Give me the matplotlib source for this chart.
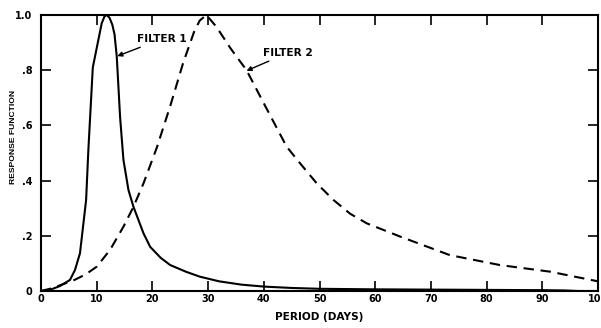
import matplotlib
matplotlib.use("Agg")
import matplotlib.pyplot as plt

# Filter 1 response (solid)
period_f1 = [0, 1.6, 3.4, 5.2, 6.1, 7.0, 8.1, 8.5, 9.3, 10.3, 10.9, 11.4, 11.8, 12.3, 12.8,
             13.2, 13.6, 14.2, 14.8, 15.7, 16.6, 18.4, 19.6, 21.5, 23.2, 26.0, 28.5,
             32.0, 36.0, 40.0, 45.0, 50.0, 60.0, 70.0, 80.0, 90.0, 94.0, 96.5, 100.0]
resp_f1 = [0.0, 0.004, 0.018, 0.04, 0.076, 0.137, 0.33, 0.51, 0.81, 0.91, 0.97, 0.995, 1.0, 0.99, 0.965,
           0.93, 0.85, 0.63, 0.475, 0.366, 0.305, 0.209, 0.16, 0.12, 0.094, 0.07, 0.052,
           0.035, 0.023, 0.016, 0.011, 0.008, 0.006, 0.005, 0.004, 0.003, 0.002, 0.0, 0.0]

# Filter 2 response (dashed)
period_f2 = [0, 2.0, 4.0, 6.0, 8.0, 10.0, 12.4, 14.8, 16.6, 18.4, 20.8, 23.2, 25.5,
             27.5, 28.5, 29.7, 31.5, 34.0, 36.9, 40.0, 44.1, 46.5, 49.5, 52.5, 55.5,
             58.5, 64.5, 73.4, 82.4, 91.4, 100.0]
resp_f2 = [0.0, 0.01, 0.025, 0.04, 0.06, 0.088, 0.149, 0.233, 0.305, 0.39, 0.52, 0.67, 0.825,
           0.94, 0.98, 1.0, 0.957, 0.88, 0.80, 0.68, 0.523, 0.463, 0.39, 0.33, 0.28,
           0.245, 0.197, 0.13, 0.094, 0.07, 0.035]

x_ticks = [0, 10, 20, 30, 40, 50, 60, 70, 80, 90, 100]
y_ticks = [0, 0.2, 0.4, 0.6, 0.8, 1.0]
y_tick_labels = ["0", ".2", ".4", ".6", ".8", "1.0"]

bold = dict(family=["DejaVu Sans"], weight="bold")

fig = plt.figure(figsize=(6.01, 3.28), dpi=100)
ax = fig.add_axes([41 / 601, 1 - 291 / 328, 557 / 601, 276 / 328])

ax.plot(period_f1, resp_f1, color="black", lw=1.5, solid_joinstyle="round")
ax.plot(period_f2, resp_f2, color="black", lw=1.5, dashes=(5, 3.2))

ax.set_xlim(0, 100)
ax.set_ylim(0, 1.0)
ax.set_xticks(x_ticks)
ax.set_xticklabels([str(t) for t in x_ticks])
ax.set_yticks(y_ticks)
ax.set_yticklabels(y_tick_labels)

ax.tick_params(direction="in", length=7, width=1.2, top=True, right=True,
               labeltop=False, labelright=False)
ax.tick_params(axis="x", pad=2)
ax.tick_params(axis="y", pad=6)
for lbl in ax.get_xticklabels() + ax.get_yticklabels():
    lbl.set_fontfamily("DejaVu Sans")
    lbl.set_fontweight("bold")
    lbl.set_fontsize(7)
for sp in ax.spines.values():
    sp.set_linewidth(1.5)

ax.set_xlabel("PERIOD (DAYS)", fontsize=7.6, labelpad=6, **bold)
ax.set_ylabel("RESPONSE FUNCTION", fontsize=6.1,
              family=["Liberation Sans"], weight="bold")
ax.yaxis.set_label_coords(-24 / 557, 0.56)

ax.annotate("FILTER 1", xy=(13.7, 0.851), xytext=(17.2, 0.913),
            fontsize=7.6, va="center", ha="left", **bold,
            arrowprops=dict(arrowstyle="-|>", color="black", lw=1.0,
                            mutation_scale=7, shrinkA=1, shrinkB=0))
ax.annotate("FILTER 2", xy=(36.9, 0.798), xytext=(39.9, 0.863),
            fontsize=7.6, va="center", ha="left", **bold,
            arrowprops=dict(arrowstyle="-|>", color="black", lw=1.0,
                            mutation_scale=7, shrinkA=1, shrinkB=0))

fig.savefig("out.png", dpi=100)
